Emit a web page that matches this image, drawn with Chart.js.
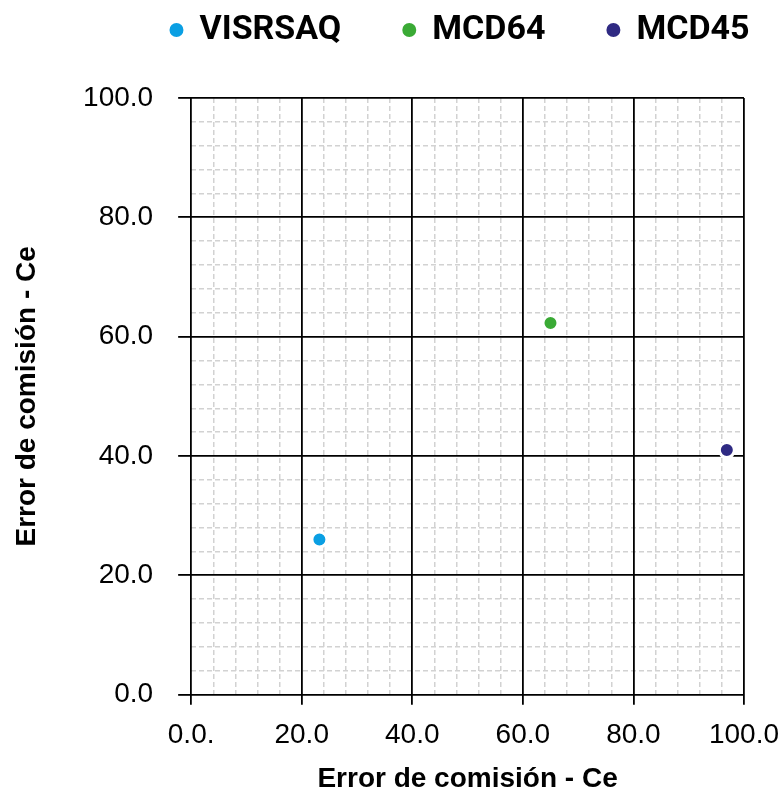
<!DOCTYPE html>
<html>
<head>
<meta charset="utf-8">
<script src="https://cdn.jsdelivr.net/npm/chart.js@4.4.1/dist/chart.umd.min.js"></script>
<style>
	html, body { margin: 0; padding: 0; background: #fff; }
	#wrap { width: 779px; height: 791px; }
</style>
</head>
<body>
<div id="wrap"><canvas id="chart"></canvas></div>
<script>
const seriesNames = ['VISRSAQ', 'MCD64', 'MCD45'];
const seriesColors = ['#0a9fe3', '#3aaa35', '#2f2a83'];
const xValues = [23.2, 65.0, 96.9];
const yValues = [26.0, 62.3, 41.0];
const xTickLabels = ['0.0.', '20.0', '40.0', '60.0', '80.0', '100.0'];
const yTickLabels = ['0.0', '20.0', '40.0', '60.0', '80.0', '100.0'];
const axisTitle = 'Error de comisión - Ce';

// push the plot down below the legend
const legendMargin = {
	id: 'legendMargin',
	beforeInit(chart) {
		const fit = chart.legend.fit;
		chart.legend.fit = function () {
			fit.bind(chart.legend)();
			this.height += 41;
		};
	},
};

const tickFont = { family: '"Liberation Sans", Arial, sans-serif', size: 28 };
const titleFont = { family: '"Liberation Sans", Arial, sans-serif', size: 28, weight: 'bold', lineHeight: 0.86 };

// minor grid every 4, skip where the major lines are
const minorColor = (ctx) => (ctx.tick && ctx.tick.value % 20 === 0 ? 'rgba(0,0,0,0)' : '#d2d2d2');

const datasets = seriesNames.map((name, i) => ({
	label: name,
	data: [{ x: xValues[i], y: yValues[i] }],
	backgroundColor: seriesColors[i],
	borderColor: '#ffffff',
	borderWidth: 3,
	pointRadius: 7.5,
	pointHoverRadius: 7.5,
}));

new Chart(document.getElementById('chart'), {
	type: 'scatter',
	data: { datasets },
	plugins: [legendMargin],
	options: {
		responsive: true,
		maintainAspectRatio: false,
		animation: false,
		layout: { padding: { top: -49, right: -141, left: 0, bottom: 0 } },
		plugins: {
			tooltip: { enabled: false },
			legend: {
				position: 'top',
				labels: {
					usePointStyle: true,
					pointStyle: 'circle',
					boxWidth: 12,
					boxHeight: 12,
					padding: 62,
					color: '#000',
					font: { family: 'Roboto, sans-serif', size: 34, weight: 'bold' },
				},
			},
		},
		scales: {
			x: {
				type: 'linear',
				position: 'bottom',
				min: 0,
				max: 100,
				ticks: {
					stepSize: 20,
					padding: 0,
					color: '#000',
					font: { ...tickFont, lineHeight: 2.15 },
					maxRotation: 0,
					callback: (value, index) => xTickLabels[index],
				},
				grid: { color: '#000', lineWidth: 1.8, tickLength: 10, tickColor: '#000', tickWidth: 1.8 },
				border: { display: false },
				title: { display: true, text: axisTitle, color: '#000', font: titleFont, padding: { top: 2, bottom: 0 } },
			},
			y: {
				type: 'linear',
				position: 'left',
				min: 0,
				max: 100,
				ticks: {
					stepSize: 20,
					padding: 25,
					color: '#000',
					font: tickFont,
					callback: (value, index) => yTickLabels[index],
				},
				grid: { color: '#000', lineWidth: 1.8, tickLength: 13, tickColor: '#000', tickWidth: 1.8 },
				border: { display: false },
				title: { display: true, text: axisTitle, color: '#000', font: titleFont, padding: { top: 15, bottom: 19 } },
			},
			xMinor: {
				type: 'linear',
				axis: 'x',
				position: 'bottom',
				min: 0,
				max: 100,
				ticks: { stepSize: 4, display: false },
				grid: { color: minorColor, lineWidth: 1.5, drawTicks: false, z: -2 },
				border: { display: false, dash: [5, 3] },
				afterFit: (scale) => { scale.height = 0; },
			},
			yMinor: {
				type: 'linear',
				axis: 'y',
				position: 'left',
				min: 0,
				max: 100,
				ticks: { stepSize: 4, display: false },
				grid: { color: minorColor, lineWidth: 1.5, drawTicks: false, z: -2 },
				border: { display: false, dash: [5, 3] },
				afterFit: (scale) => { scale.width = 0; },
			},
		},
	},
});
</script>
</body>
</html>
